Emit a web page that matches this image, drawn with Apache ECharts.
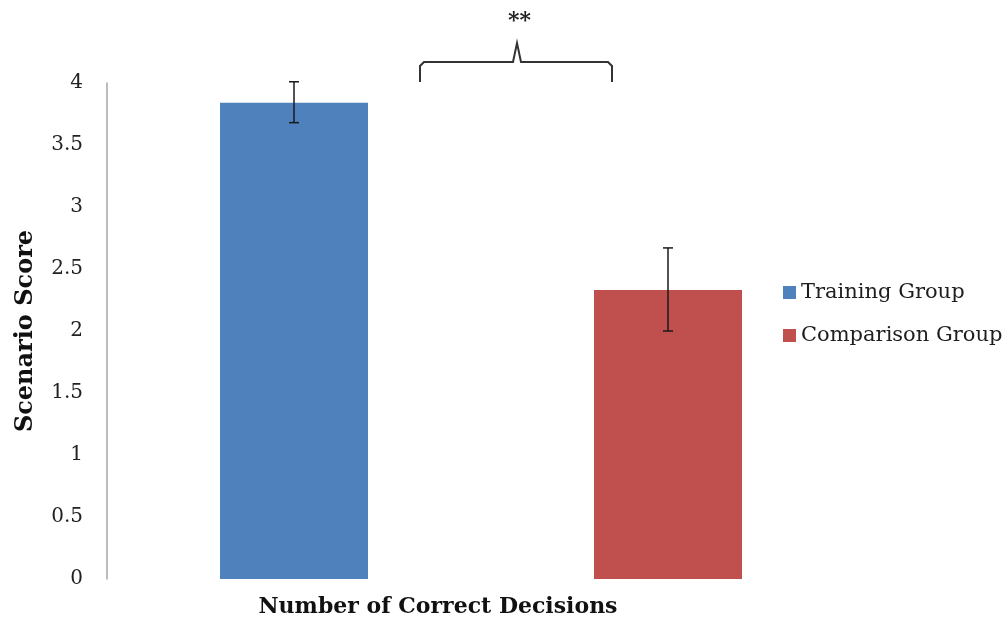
<!DOCTYPE html>
<html>
<head>
  <meta charset="utf-8">
  <script src="https://cdn.jsdelivr.net/npm/echarts@6/dist/echarts.min.js"></script>
</head>
<body style="margin:0;background:#fff;">
  <div id="container" style="width:1006px;height:618px;"></div>
  <script>
    // data
    var groups = ['Training Group', 'Comparison Group'];
    var means = [3.84, 2.33];
    var errLow = [3.68, 2.00];
    var errHigh = [4.01, 2.67];
    var yTicks = [0, 4, 0.5]; // min, max, step
    var colors = ['#4f81bd', '#c0504d'];

    var font = 'DejaVu Serif';
    var chart = echarts.init(document.getElementById('container'));

    var barSeries = groups.map(function (g, i) {
      return {
        name: g,
        type: 'bar',
        barWidth: 148,
        barGap: '-100%',
        itemStyle: { color: colors[i] },
        data: groups.map(function (_, j) { return j === i ? means[i] : '-'; })
      };
    });

    var errData = groups.map(function (g, i) { return [i, errLow[i], errHigh[i]]; });

    var option = {
      animation: false,
      backgroundColor: '#fff',
      textStyle: { fontFamily: font },
      grid: { left: 107, right: 151, top: 83, bottom: 39, outerBoundsMode: 'none', containLabel: false },
      legend: {
        orient: 'vertical',
        left: 778,
        top: 277,
        itemWidth: 13,
        itemHeight: 13,
        itemGap: 22,
        icon: 'rect',
        textStyle: { fontFamily: font, fontSize: 21, color: '#1e1e1e' },
        data: groups
      },
      xAxis: {
        type: 'category',
        data: groups,
        axisLine: { show: false },
        axisTick: { show: false },
        axisLabel: { show: false },
        name: 'Number of Correct Decisions',
        nameLocation: 'middle',
        nameGap: 17,
        nameTextStyle: {
          fontFamily: font, fontSize: 22, fontWeight: 'bold', color: '#111',
          padding: [0, 86, 0, 0]
        }
      },
      yAxis: {
        type: 'value',
        min: yTicks[0],
        max: yTicks[1],
        interval: yTicks[2],
        splitLine: { show: false },
        axisTick: { show: false },
        axisLine: { show: true, lineStyle: { color: '#a6a6a6', width: 1.5 } },
        axisLabel: { fontFamily: font, fontSize: 20, color: '#222', margin: 24 },
        name: 'Scenario Score',
        nameLocation: 'middle',
        nameGap: 69,
        nameTextStyle: { fontFamily: font, fontSize: 24, fontWeight: 'bold', color: '#111' }
      },
      series: barSeries.concat([{
        type: 'custom',
        name: 'err',
        z: 10,
        renderItem: function (params, api) {
          var lo = api.coord([api.value(0), api.value(1)]);
          var hi = api.coord([api.value(0), api.value(2)]);
          var w = 5;
          var st = { stroke: '#1a1a1a', lineWidth: 1.5 };
          return {
            type: 'group',
            children: [
              { type: 'line', shape: { x1: lo[0], y1: lo[1], x2: hi[0], y2: hi[1] }, style: st },
              { type: 'line', shape: { x1: lo[0] - w, y1: lo[1], x2: lo[0] + w, y2: lo[1] }, style: st },
              { type: 'line', shape: { x1: hi[0] - w, y1: hi[1], x2: hi[0] + w, y2: hi[1] }, style: st }
            ]
          };
        },
        encode: { x: 0, y: [1, 2] },
        data: errData
      }]),
      graphic: [
        {
          type: 'polyline',
          shape: {
            points: [[420, 82], [420, 66], [424, 62], [513, 62], [517, 43], [521, 62],
                     [608, 62], [612, 66], [612, 82]]
          },
          style: { stroke: '#333', lineWidth: 2, fill: null }
        },
        {
          type: 'text',
          left: 508,
          top: 10,
          style: { text: '**', font: 'bold 22px "DejaVu Serif"', fill: '#222' }
        }
      ]
    };

    chart.setOption(option);
  </script>
</body>
</html>
